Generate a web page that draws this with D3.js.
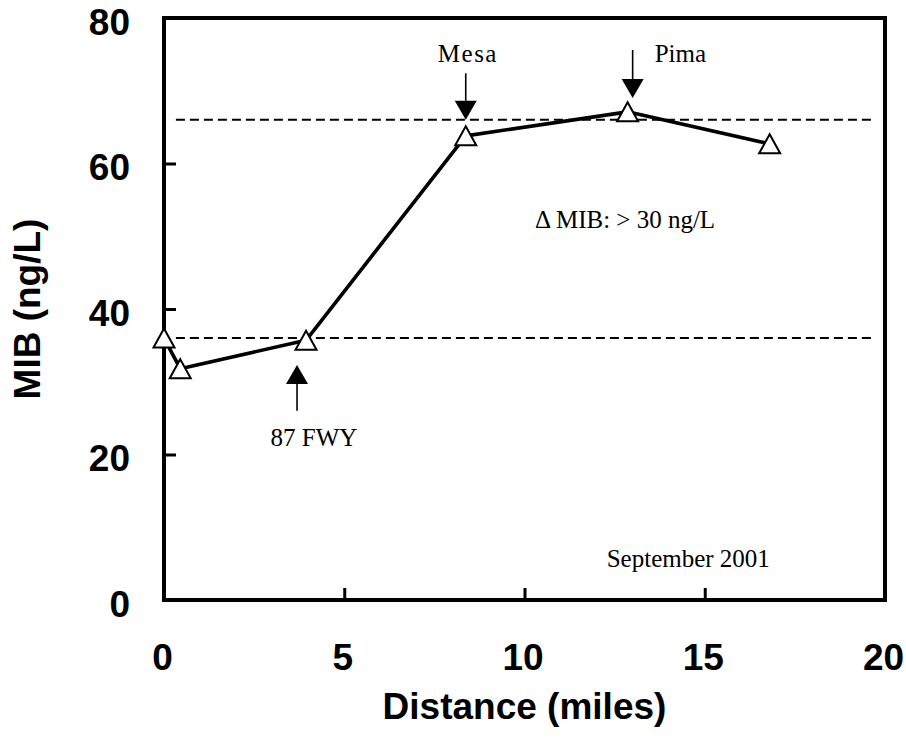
<!DOCTYPE html>
<html>
<head>
<meta charset="utf-8">
<script src="https://cdn.jsdelivr.net/npm/d3@7"></script>
<style>
  html, body { margin: 0; padding: 0; background: #fff; }
  svg { display: block; }
  .tick text { font-family: "Liberation Sans", Arial, sans-serif; font-weight: bold; font-size: 37px; fill: #000; }
  .note { font-family: "Liberation Serif", "Times New Roman", serif; font-size: 25px; fill: #000; }
  .title { font-family: "Liberation Sans", Arial, sans-serif; font-weight: bold; font-size: 37px; fill: #000; }
</style>
</head>
<body>
<svg id="chart" width="906" height="747"></svg>
<script>
// MIB along the canal, September 2001
const distance = [0, 0.45, 3.94, 8.37, 12.86, 16.8];
const mib = [36.0, 31.8, 35.7, 63.8, 67.1, 62.7];

const xTicks = [0, 5, 10, 15, 20];
const yTicks = [0, 20, 40, 60, 80];

// reference levels (before / after the increase)
const refLevels = [36, 66];
const refStart = 0.33, refEnd = 19.63;

// arrow annotations: x in miles, tip and tail in ng/L
const arrowX = [3.69, 8.37, 13.0];
const arrowTip = [32.3, 66.0, 69.0];
const arrowTail = [26.0, 72.4, 75.6];

// text notes: label, x (miles), y (ng/L), anchor
const noteText = ["87 FWY", "Mesa", "Pima", "\u0394 MIB: > 30 ng/L", "September 2001"];
const noteX = [4.16, 8.43, 13.61, 10.29, 12.28];
const noteY = [21.2, 73.95, 73.95, 51.1, 4.5];
const noteAnchor = ["middle", "middle", "start", "start", "start"];

const margin = { left: 164, top: 18, right: 21, bottom: 147 };
const W = 906, H = 747;
const iw = W - margin.left - margin.right;
const ih = H - margin.top - margin.bottom;

const svg = d3.select("#chart");
const g = svg.append("g").attr("transform", `translate(${margin.left},${margin.top})`);

const x = d3.scaleLinear().domain([0, 20]).range([0, iw]);
const y = d3.scaleLinear().domain([0, 80]).range([ih, 0]);

// axes with inward ticks
const yAxis = g.append("g")
  .call(d3.axisLeft(y).tickValues(yTicks).tickSize(-12).tickPadding(34).tickFormat(d3.format("d")));
yAxis.select(".domain").remove();
yAxis.selectAll(".tick line").attr("stroke", "#000").attr("stroke-width", 3);
yAxis.selectAll(".tick text").attr("dy", "0.44em");

const xAxis = g.append("g").attr("transform", `translate(0,${ih})`)
  .call(d3.axisBottom(x).tickValues(xTicks).tickSize(-12).tickPadding(44).tickFormat(d3.format("d")));
xAxis.select(".domain").remove();
xAxis.selectAll(".tick line").attr("stroke", "#000").attr("stroke-width", 3);
xAxis.selectAll(".tick text").attr("dx", -2);

// frame
g.append("rect")
  .attr("x", 0).attr("y", 0).attr("width", iw).attr("height", ih)
  .attr("fill", "none").attr("stroke", "#000").attr("stroke-width", 4);

// dashed reference lines
g.selectAll("line.ref").data(refLevels).join("line")
  .attr("class", "ref")
  .attr("x1", x(refStart)).attr("x2", x(refEnd))
  .attr("y1", d => y(d)).attr("y2", d => y(d))
  .attr("stroke", "#000").attr("stroke-width", 2).attr("stroke-dasharray", "9,5");

// data line
const pts = distance.map((d, i) => [d, mib[i]]);
g.append("path")
  .datum(pts)
  .attr("fill", "none").attr("stroke", "#000").attr("stroke-width", 3.6)
  .attr("stroke-linejoin", "round")
  .attr("d", d3.line().x(d => x(d[0])).y(d => y(d[1])));

// open triangle markers
g.selectAll("path.marker").data(pts).join("path")
  .attr("class", "marker")
  .attr("transform", d => `translate(${x(d[0])},${y(d[1])})`)
  .attr("d", "M0,-9.5L10.5,9.5L-10.5,9.5Z")
  .attr("fill", "#fff").attr("stroke", "#000").attr("stroke-width", 2);

// arrows
arrowX.forEach((ax, i) => {
  const px = x(ax), tip = y(arrowTip[i]), tail = y(arrowTail[i]);
  const dir = tail > tip ? 1 : -1;      // +1: arrow points up
  const headLen = 19, headHalf = 11;
  const base = tip + dir * headLen;
  g.append("line")
    .attr("x1", px).attr("x2", px).attr("y1", tail).attr("y2", base)
    .attr("stroke", "#000").attr("stroke-width", 1.6);
  g.append("path")
    .attr("d", `M${px},${tip}L${px + headHalf},${base}L${px - headHalf},${base}Z`)
    .attr("fill", "#000");
});

// notes
noteText.forEach((t, i) => {
  g.append("text").attr("class", "note")
    .attr("x", x(noteX[i])).attr("y", y(noteY[i]))
    .attr("text-anchor", noteAnchor[i])
    .attr("letter-spacing", t === "Mesa" ? "1.5px" : null)
    .text(t);
});

// axis titles
svg.append("text").attr("class", "title")
  .attr("x", margin.left + iw / 2).attr("y", 719)
  .attr("text-anchor", "middle")
  .text("Distance (miles)");

svg.append("text").attr("class", "title")
  .attr("transform", `translate(40,${margin.top + ih / 2}) rotate(-90)`)
  .attr("text-anchor", "middle")
  .text("MIB (ng/L)");
</script>
</body>
</html>
